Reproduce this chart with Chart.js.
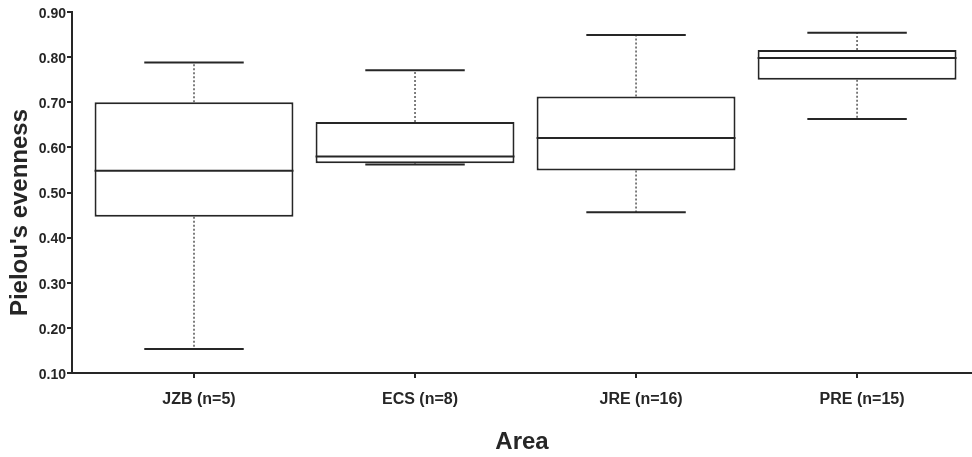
<!DOCTYPE html>
<html>
<head>
<meta charset="utf-8">
<script src="https://cdn.jsdelivr.net/npm/chart.js@4/dist/chart.umd.min.js"></script>
<style>
  body { margin: 0; background: #fff; }
  #wrap { width: 972px; height: 457px; }
</style>
</head>
<body>
<div id="wrap"><canvas id="myChart" width="972" height="457"></canvas></div>
<script>
// box plot values
const categories = ['JZB (n=5)', 'ECS (n=8)', 'JRE (n=16)', 'PRE (n=15)'];
const mins    = [0.153, 0.562, 0.456, 0.663];
const q1s     = [0.446, 0.565, 0.549, 0.750];
const medians = [0.548, 0.580, 0.621, 0.798];
const q3s     = [0.700, 0.656, 0.713, 0.816];
const maxs    = [0.788, 0.771, 0.849, 0.854];
const yTicks  = [0.1, 0.2, 0.3, 0.4, 0.5, 0.6, 0.7, 0.8, 0.9];

const ink = '#262626';

Chart.defaults.font.family = "'Liberation Sans', Arial, sans-serif";
Chart.defaults.color = ink;

// medians, whiskers and caps, drawn from the y scale
const boxExtras = {
  id: 'boxExtras',
  afterDatasetsDraw(chart) {
    const ctx = chart.ctx;
    const y = chart.scales.y;
    const meta = chart.getDatasetMeta(0);
    meta.data.forEach((bar, i) => {
      const half = bar.width / 2;
      const cap = bar.width / 4;
      const cx = bar.x;
      ctx.save();
      // median
      ctx.strokeStyle = ink;
      ctx.lineWidth = 2;
      ctx.beginPath();
      ctx.moveTo(cx - half, y.getPixelForValue(medians[i]));
      ctx.lineTo(cx + half, y.getPixelForValue(medians[i]));
      ctx.stroke();
      // dotted whiskers
      ctx.strokeStyle = '#555';
      ctx.lineWidth = 1.5;
      ctx.setLineDash([2, 2]);
      ctx.beginPath();
      ctx.moveTo(cx, y.getPixelForValue(q3s[i]));
      ctx.lineTo(cx, y.getPixelForValue(maxs[i]));
      ctx.moveTo(cx, y.getPixelForValue(q1s[i]));
      ctx.lineTo(cx, y.getPixelForValue(mins[i]));
      ctx.stroke();
      // caps
      ctx.setLineDash([]);
      ctx.strokeStyle = ink;
      ctx.lineWidth = 2;
      ctx.beginPath();
      ctx.moveTo(cx - cap, y.getPixelForValue(maxs[i]));
      ctx.lineTo(cx + cap, y.getPixelForValue(maxs[i]));
      ctx.moveTo(cx - cap, y.getPixelForValue(mins[i]));
      ctx.lineTo(cx + cap, y.getPixelForValue(mins[i]));
      ctx.stroke();
      ctx.restore();
    });
  }
};

const boxes = categories.map((c, i) => ({ x: i, y: [q1s[i], q3s[i]] }));

new Chart(document.getElementById('myChart'), {
  type: 'bar',
  data: {
    datasets: [{
      data: boxes,
      backgroundColor: '#fff',
      borderColor: ink,
      borderWidth: 2,
      borderSkipped: false,
      categoryPercentage: 1,
      barPercentage: 0.9
    }]
  },
  options: {
    responsive: false,
    animation: false,
    devicePixelRatio: 1,
    layout: { padding: { top: 12, left: 0, right: 0, bottom: 0 } },
    plugins: { legend: { display: false }, tooltip: { enabled: false } },
    scales: {
      x: {
        type: 'linear',
        offset: false,
        min: -0.552,
        max: 3.52,
        afterBuildTicks: axis => { axis.ticks = categories.map((c, i) => ({ value: i })); },
        afterFit: scale => { scale.height = 84; },
        grid: { offset: false, drawOnChartArea: false, drawTicks: true, tickLength: 5, color: ink, lineWidth: 2 },
        border: { display: true, color: ink, width: 2 },
        ticks: {
          autoSkip: false,
          maxRotation: 0,
          padding: 12,
          labelOffset: 5,
          font: { size: 16, weight: 'bold' },
          callback: v => categories[v]
        },
        title: {
          display: true,
          text: 'Area',
          font: { size: 24, weight: 'bold' },
          padding: { top: 0, bottom: 0 }
        }
      },
      y: {
        min: 0.1,
        max: 0.9,
        afterBuildTicks: axis => { axis.ticks = yTicks.map(v => ({ value: v })); },
        afterFit: scale => { scale.width = 72; },
        grid: { drawOnChartArea: false, drawTicks: true, tickLength: 5, color: ink, lineWidth: 2 },
        border: { display: true, color: ink, width: 2 },
        ticks: {
          padding: 1,
          labelOffset: 2,
          font: { size: 14, weight: 'bold' },
          callback: v => v.toFixed(2)
        },
        title: {
          display: true,
          text: "Pielou's evenness      ",
          font: { size: 24, weight: 'bold' },
          padding: { top: 6, bottom: 0 }
        }
      }
    }
  },
  plugins: [boxExtras]
});
</script>
</body>
</html>
